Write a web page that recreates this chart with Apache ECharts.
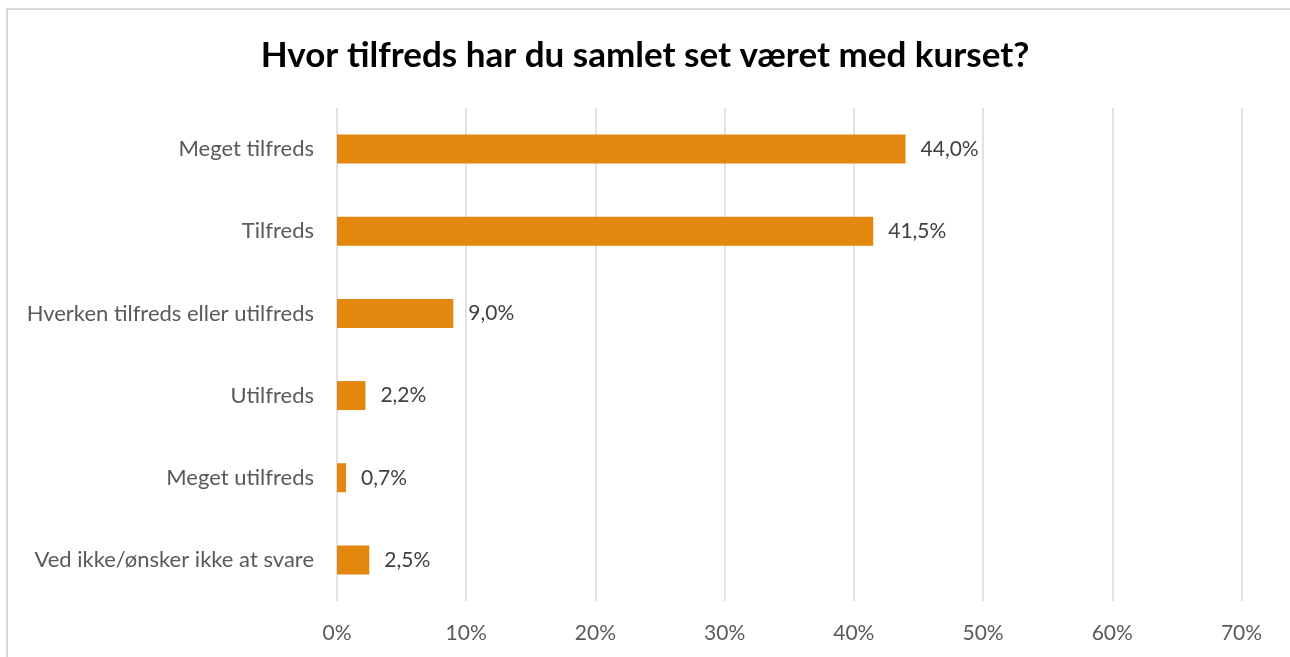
<!DOCTYPE html>
<html>
<head>
<meta charset="utf-8">
<script src="https://cdn.jsdelivr.net/npm/echarts@6/dist/echarts.min.js"></script>
<style>
  html, body { margin: 0; padding: 0; background: #fff; }
  #chart { width: 1290px; height: 657px; }
</style>
</head>
<body>
<div id="chart"></div>
<script>
// Survey answers and their shares (percent)
const categories = [
  'Meget tilfreds',
  'Tilfreds',
  'Hverken tilfreds eller utilfreds',
  'Utilfreds',
  'Meget utilfreds',
  'Ved ikke/ønsker ikke at svare'
];
const shares = [44.0, 41.5, 9.0, 2.2, 0.7, 2.5];
const axisMax = 70;
const axisStep = 10;

const fmtPct = v => v.toFixed(1).replace('.', ',') + '%';

const chart = echarts.init(document.getElementById('chart'), null, { renderer: 'canvas' });
chart.setOption({
  backgroundColor: '#ffffff',
  animation: false,
  title: {
    text: 'Hvor tilfreds har du samlet set været med kurset?',
    left: 'center',
    top: 33,
    textStyle: { fontFamily: 'Lato', fontWeight: 'bold', fontSize: 35, color: '#000000' }
  },
  graphic: [{
    type: 'rect',
    shape: { x: 7, y: 9, width: 1320, height: 700 },
    style: { fill: 'none', stroke: '#d9d9d9', lineWidth: 2 },
    silent: true
  }],
  grid: { left: 337, right: 48.5, top: 108, bottom: 56 },
  xAxis: {
    type: 'value',
    min: 0,
    max: axisMax,
    interval: axisStep,
    axisLine: { show: false },
    axisTick: { show: false },
    splitLine: { lineStyle: { color: '#d9d9d9', width: 1.5 } },
    axisLabel: {
      formatter: v => v + '%',
      fontFamily: 'Lato',
      fontSize: 21,
      color: '#595959',
      margin: 22
    }
  },
  yAxis: {
    type: 'category',
    inverse: true,
    data: categories,
    axisLine: { show: false },
    axisTick: { show: false },
    axisLabel: {
      fontFamily: 'Lato',
      fontSize: 22,
      color: '#595959',
      margin: 23
    }
  },
  series: [{
    type: 'bar',
    data: shares,
    barWidth: 29,
    itemStyle: { color: '#E3870E' },
    label: {
      show: true,
      position: 'right',
      distance: 15,
      formatter: p => fmtPct(p.value),
      fontFamily: 'Lato',
      fontSize: 21,
      color: '#404040'
    }
  }]
});
</script>
</body>
</html>
